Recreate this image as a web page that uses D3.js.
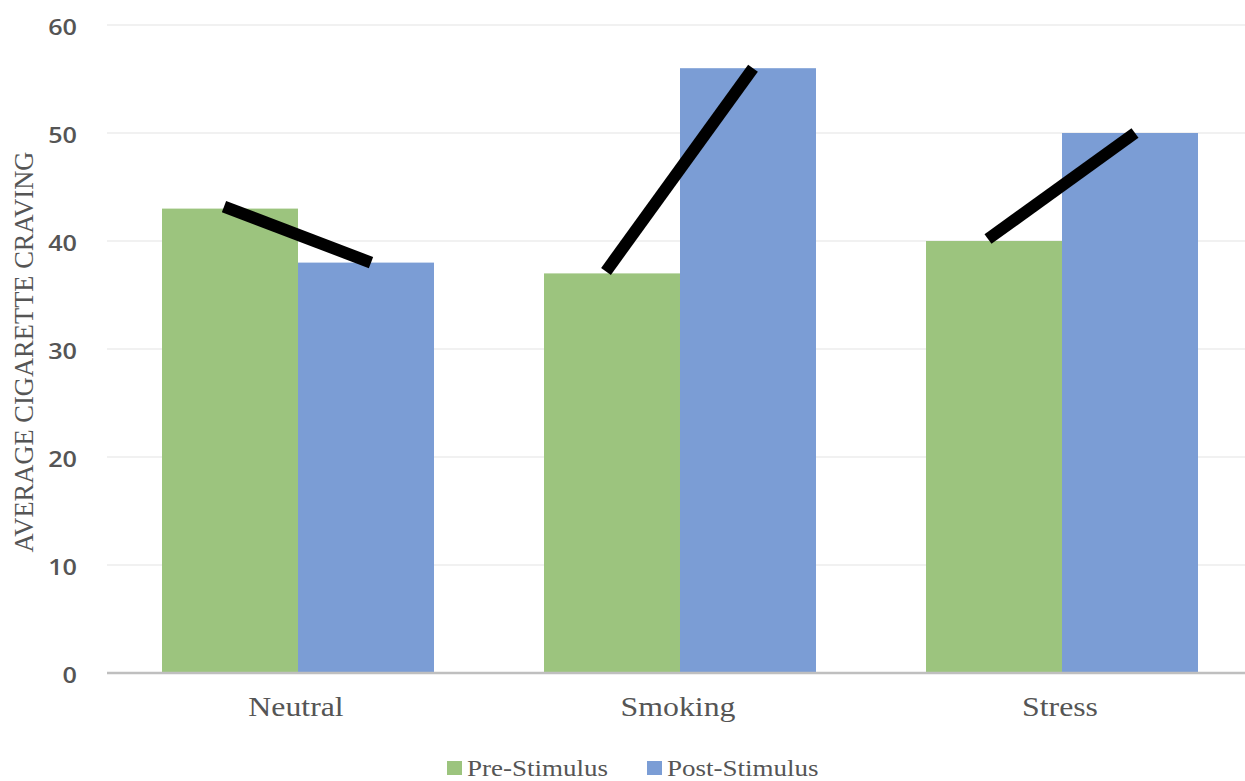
<!DOCTYPE html>
<html>
<head>
<meta charset="utf-8">
<script src="https://cdnjs.cloudflare.com/ajax/libs/d3/7.8.5/d3.min.js"></script>
<style>
  html, body { margin: 0; padding: 0; background: #ffffff; }
  svg { display: block; }
</style>
</head>
<body>
<svg id="chart" width="1245" height="781"></svg>
<script>
// Average cigarette craving before and after each cue type
const categories = ["Neutral", "Smoking", "Stress"];
const seriesNames = ["Pre-Stimulus", "Post-Stimulus"];
const preStimulus = [43, 37, 40];
const postStimulus = [38, 56, 50];
const yTicks = [0, 10, 20, 30, 40, 50, 60];
const yTitle = "AVERAGE CIGARETTE CRAVING";

const colors = { "Pre-Stimulus": "#9cc47e", "Post-Stimulus": "#7b9dd5" };
const textGrey = "#555555";
const stretch = 1.2; // horizontal text scaling

const rows = categories.map((c, i) => ({
  category: c,
  values: [
    { key: seriesNames[0], value: preStimulus[i] },
    { key: seriesNames[1], value: postStimulus[i] }
  ]
}));

const svg = d3.select("#chart");
const W = 1245;
const plot = { left: 107, right: 1253, top: 25, bottom: 673 };

const x = d3.scaleBand()
  .domain(categories)
  .range([plot.left, plot.right])
  .paddingInner(0.288)
  .paddingOuter(0.144);

const xs = d3.scaleBand()
  .domain(seriesNames)
  .range([0, x.bandwidth()]);

const y = d3.scaleLinear()
  .domain([0, 60])
  .range([plot.bottom, plot.top]);

// Horizontal gridlines
svg.append("g")
  .selectAll("line")
  .data(yTicks.filter(t => t > 0))
  .join("line")
  .attr("x1", plot.left)
  .attr("x2", W)
  .attr("y1", d => y(d))
  .attr("y2", d => y(d))
  .attr("stroke", "#ececec")
  .attr("stroke-width", 1.5);

// Y tick labels
svg.append("g")
  .selectAll("text")
  .data(yTicks)
  .join("text")
  .attr("transform", d => `translate(77,${y(d) + 10}) scale(${stretch},1)`)
  .attr("text-anchor", "end")
  .attr("font-family", "'Open Sans', sans-serif")
  .attr("font-weight", 600)
  .attr("font-size", 21)
  .attr("fill", textGrey)
  .text(d => d);

// Bars
const groups = svg.append("g")
  .selectAll("g")
  .data(rows)
  .join("g")
  .attr("transform", d => `translate(${x(d.category)},0)`);

groups.selectAll("rect")
  .data(d => d.values)
  .join("rect")
  .attr("x", d => xs(d.key))
  .attr("y", d => y(d.value))
  .attr("width", xs.bandwidth())
  .attr("height", d => y(0) - y(d.value))
  .attr("fill", d => colors[d.key]);

// Change lines from pre to post value
svg.append("g")
  .selectAll("line")
  .data(rows)
  .join("line")
  .attr("x1", d => x(d.category) + xs(seriesNames[0]) + xs.bandwidth() / 2 - 6)
  .attr("y1", d => y(d.values[0].value) - 2)
  .attr("x2", d => x(d.category) + xs(seriesNames[1]) + xs.bandwidth() / 2 + 5)
  .attr("y2", d => y(d.values[1].value))
  .attr("stroke", "#000000")
  .attr("stroke-width", 12)
  .attr("stroke-linecap", "butt");

// X axis baseline
svg.append("line")
  .attr("x1", plot.left)
  .attr("x2", W)
  .attr("y1", y(0))
  .attr("y2", y(0))
  .attr("stroke", "#bfbfbf")
  .attr("stroke-width", 2.5);

// Category labels
svg.append("g")
  .selectAll("text")
  .data(categories)
  .join("text")
  .attr("transform", d => `translate(${x(d) + x.bandwidth() / 2 - 2},716) scale(${stretch},1)`)
  .attr("text-anchor", "middle")
  .attr("font-family", "'Liberation Serif', 'Times New Roman', serif")
  .attr("font-size", 26.5)
  .attr("fill", textGrey)
  .text(d => d);

// Y axis title
svg.append("text")
  .attr("transform", "translate(33,352) rotate(-90)")
  .attr("text-anchor", "middle")
  .attr("font-family", "'Liberation Serif', 'Times New Roman', serif")
  .attr("font-size", 26.5)
  .attr("fill", textGrey)
  .text(yTitle);

// Legend
const legendX = [447, 647];
const legend = svg.append("g")
  .selectAll("g")
  .data(seriesNames)
  .join("g")
  .attr("transform", (d, i) => `translate(${legendX[i]},761)`);

legend.append("rect")
  .attr("width", 15)
  .attr("height", 14)
  .attr("fill", d => colors[d]);

legend.append("text")
  .attr("transform", `translate(20,15) scale(${stretch},1)`)
  .attr("font-family", "'Liberation Serif', 'Times New Roman', serif")
  .attr("font-size", 22.5)
  .attr("fill", textGrey)
  .text(d => d);
</script>
</body>
</html>
